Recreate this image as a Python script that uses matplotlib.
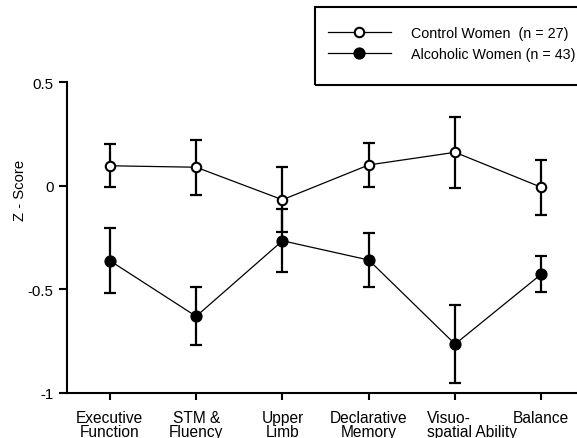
import matplotlib
matplotlib.use("Agg")
import matplotlib.pyplot as plt
import matplotlib.patches as mpatches
from matplotlib.transforms import ScaledTranslation

plt.rcParams["font.family"] = ["Liberation Sans", "DejaVu Sans"]

# ── Data ─────────────────────────────────────────────────────
categories = ["Executive\nFunction", "STM &\nFluency", "Upper\nLimb",
              "Declarative\nMemory", "Visuo-\nspatial Ability", "Balance"]
control_mean = [0.097, 0.090, -0.067, 0.101, 0.162, -0.007]
control_err = [0.103, 0.133, 0.157, 0.108, 0.170, 0.133]
alcoholic_mean = [-0.361, -0.630, -0.265, -0.358, -0.764, -0.426]
alcoholic_err = [0.156, 0.140, 0.152, 0.130, 0.188, 0.085]
yticks = [-1, -0.5, 0, 0.5]
ytick_labels = ["-1", "-0.5", "0", "0.5"]

# ── Figure ───────────────────────────────────────────────────
DPI = 100
W, H = 577, 439
fig = plt.figure(figsize=(W / DPI, H / DPI), dpi=DPI)
fig.patch.set_facecolor("white")
ax = fig.add_axes([66.7 / W, 45 / H, 517.8 / W, 310.7 / H])

x = list(range(len(categories)))

# error bars first so the open markers sit on top of them
for mean, err in [(control_mean, control_err), (alcoholic_mean, alcoholic_err)]:
    ax.errorbar(x, mean, yerr=err, fmt="none", ecolor="black",
                elinewidth=1.6, capsize=4, capthick=1.6, zorder=2)

ax.plot(x, control_mean, color="black", lw=0.9, marker="o", ms=6.8,
        mfc="white", mec="black", mew=1.5, zorder=3,
        label="Control Women  (n = 27)")
ax.plot(x, alcoholic_mean, color="black", lw=0.9, marker="o", ms=7.8,
        mfc="black", mec="black", zorder=3,
        label="Alcoholic Women (n = 43)")

ax.set_xlim(-0.5, 5.5)
ax.set_ylim(-1, 0.5)
ax.set_xticks(x)
ax.set_xticklabels(categories, fontsize=11.2, linespacing=0.95)
ax.set_yticks(yticks)
ax.set_yticklabels(ytick_labels, fontsize=10.8)

for side in ["top", "right"]:
    ax.spines[side].set_visible(False)
for side in ["left", "bottom"]:
    ax.spines[side].set_linewidth(1.5)
ax.tick_params(axis="y", direction="out", length=6, width=1.5, pad=3.5)
ax.tick_params(axis="x", direction="out", length=5, width=1.5, pad=7)

# second line of this label hangs to the right
vs = ax.get_xticklabels()[4]
vs.set_multialignment("left")
vs.set_transform(vs.get_transform() + ScaledTranslation(17 / DPI, 0, fig.dpi_scale_trans))

fig.text(20 / W, 1 - 190 / H, "Z - Score", rotation=90, fontsize=10.7,
         ha="center", va="center")

# ── Legend box ───────────────────────────────────────────────
fig.patches.append(mpatches.Rectangle(
    (315 / W, 1 - 86 / H), 280 / W, 77.7 / H, transform=fig.transFigure,
    fill=False, edgecolor="black", lw=1.5))
ax.legend(loc="center left", bbox_to_anchor=(328 / W, 1 - 44.5 / H),
          bbox_transform=fig.transFigure, frameon=False, fontsize=10.3,
          handlelength=4.4, handletextpad=1.4, labelspacing=0.5,
          borderpad=0, borderaxespad=0)

fig.savefig("out.png", dpi=DPI, facecolor="white")
